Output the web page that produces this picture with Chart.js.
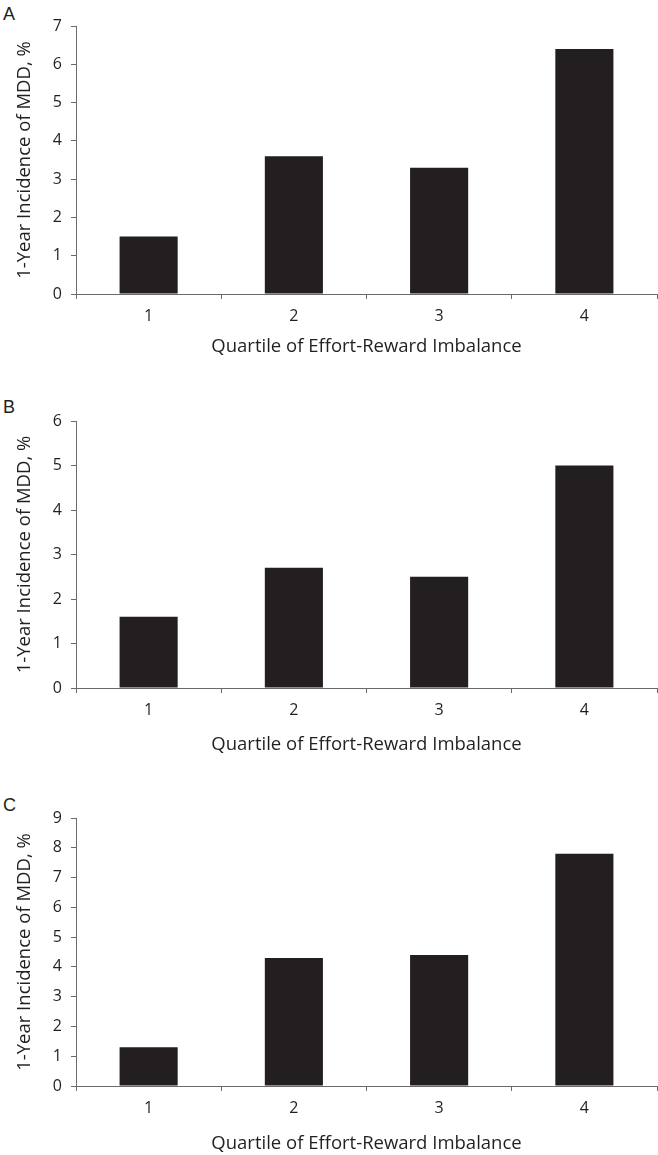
<!DOCTYPE html>
<html>
<head>
<meta charset="utf-8">
<title>Quartile of Effort-Reward Imbalance</title>
<script src="https://cdn.jsdelivr.net/npm/chart.js@4/dist/chart.umd.min.js"></script>
<style>
    html, body { margin: 0; padding: 0; background: #fff; }
    #pagina { position: relative; width: 658px; height: 1155px; overflow: hidden; }
    .painel { position: absolute; left: 0; }
    .letra {
        position: absolute; left: 3px;
        font-family: "Liberation Sans", Arial, sans-serif;
        font-size: 18px; line-height: 1; color: #231f20;
    }
</style>
</head>
<body>
<div id="pagina">
    <div class="letra" style="top:5px">A</div>
    <div class="letra" style="top:398px">B</div>
    <div class="letra" style="top:796px">C</div>
    <canvas id="graficoA" class="painel"></canvas>
    <canvas id="graficoB" class="painel"></canvas>
    <canvas id="graficoC" class="painel"></canvas>
</div>
<script>
// --- DATA ---
const quartis = ['1', '2', '3', '4'];
const incidenciaA = [1.5, 3.6, 3.3, 6.4];
const incidenciaB = [1.6, 2.7, 2.5, 5.0];
const incidenciaC = [1.3, 4.3, 4.4, 7.8];
const maximos = { A: 7, B: 6, C: 9 };

const tituloX = 'Quartile of Effort-Reward Imbalance';
const tituloY = '1-Year Incidence of MDD, %';

document.addEventListener('DOMContentLoaded', () => {

    const corBarra = '#231f20';
    const corEixo = '#6a6a6a';
    const corTexto = '#231f20';
    const fonte = '"Open Sans", "DejaVu Sans", sans-serif';

    // layout of each panel on the page
    const paineis = [
        { id: 'graficoA', dados: incidenciaA, max: maximos.A, topo: 0,   padTopo: 26, altura: 358, alturaX: 64 },
        { id: 'graficoB', dados: incidenciaB, max: maximos.B, topo: 380, padTopo: 41, altura: 376, alturaX: 68 },
        { id: 'graficoC', dados: incidenciaC, max: maximos.C, topo: 770, padTopo: 48, altura: 385, alturaX: 69 }
    ];

    function criarGrafico(p) {
        const canvas = document.getElementById(p.id);
        canvas.width = 658;
        canvas.height = p.altura;
        canvas.style.top = p.topo + 'px';

        return new Chart(canvas.getContext('2d'), {
            type: 'bar',
            data: {
                labels: quartis,
                datasets: [{
                    data: p.dados,
                    backgroundColor: corBarra,
                    borderWidth: 0,
                    barPercentage: 0.4,
                    categoryPercentage: 1
                }]
            },
            options: {
                responsive: false,
                animation: false,
                devicePixelRatio: 1,
                layout: { padding: { top: p.padTopo, right: 1, bottom: 0, left: 0 } },
                plugins: { legend: { display: false }, tooltip: { enabled: false } },
                scales: {
                    x: {
                        grid: { offset: true, drawOnChartArea: false, drawTicks: true, tickLength: 5, color: corEixo },
                        border: { color: corEixo, width: 1 },
                        ticks: { color: corTexto, padding: 8, font: { family: fonte, size: 16 } },
                        title: {
                            display: true, text: tituloX, color: corTexto,
                            padding: { top: 0, bottom: 0 },
                            font: { family: fonte, size: 18.5 }
                        },
                        afterFit: (escala) => { escala.height = p.alturaX; }
                    },
                    y: {
                        min: 0,
                        max: p.max,
                        grid: { drawOnChartArea: false, drawTicks: true, tickLength: 5, color: corEixo },
                        border: { color: corEixo, width: 1 },
                        ticks: { stepSize: 1, color: corTexto, padding: 9, font: { family: fonte, size: 16 } },
                        title: {
                            display: true, text: tituloY, color: corTexto,
                            padding: { top: 14, bottom: 0 },
                            font: { family: fonte, size: 18.5 }
                        },
                        afterFit: (escala) => { escala.width = 76; }
                    }
                }
            }
        });
    }

    paineis.forEach(criarGrafico);
});
</script>
</body>
</html>
